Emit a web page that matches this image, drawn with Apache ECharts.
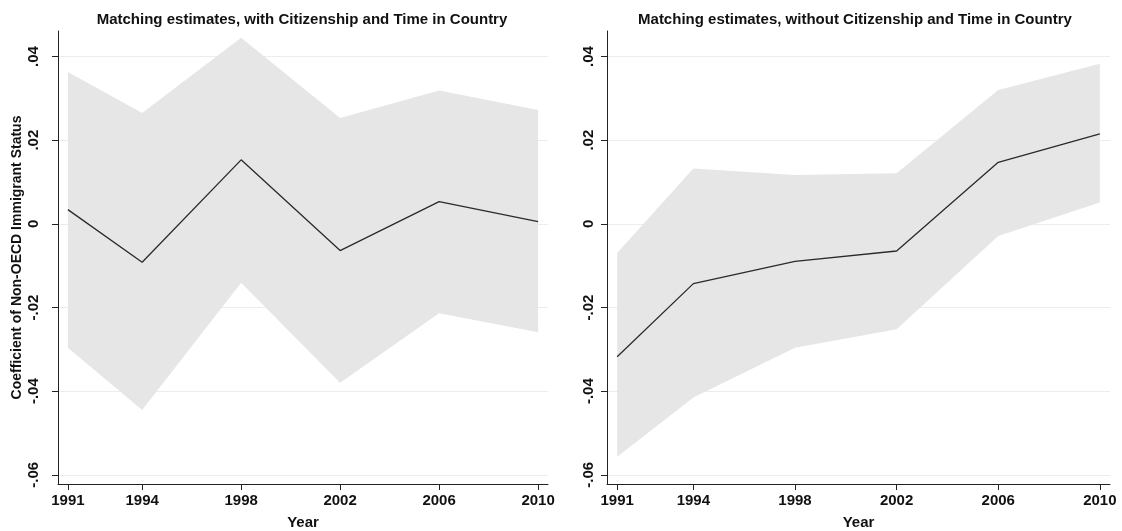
<!DOCTYPE html>
<html>
<head>
<meta charset="utf-8">
<script src="https://cdn.jsdelivr.net/npm/echarts@6/dist/echarts.min.js"></script>
<style>
html,body{margin:0;padding:0;background:#fff;}
#chart{width:1122px;height:531px;}
</style>
</head>
<body>
<div id="chart"></div>
<script>
// ---- data ----
const years = [1991, 1994, 1998, 2002, 2006, 2010];
const titles = [
  'Matching estimates, with Citizenship and Time in Country',
  'Matching estimates, without Citizenship and Time in Country'
];
const yAxisTitle = 'Coefficient of Non-OECD Immigrant Status';
const xAxisTitle = 'Year';
const yTicks = [-0.06, -0.04, -0.02, 0, 0.02, 0.04];
const xTicks = [1991, 1994, 1998, 2002, 2006, 2010];

// Panel 1: with citizenship and time in country
const withEst   = [0.0034, -0.0092, 0.0153, -0.0064, 0.0053, 0.0005];
const withUpper = [0.0363, 0.0265, 0.0445, 0.0253, 0.0319, 0.0272];
const withLower = [-0.0296, -0.0445, -0.0141, -0.0380, -0.0214, -0.0259];

// Panel 2: without citizenship and time in country
const withoutEst   = [-0.0318, -0.0143, -0.0090, -0.0065, 0.0147, 0.0215];
const withoutUpper = [-0.0070, 0.0132, 0.0117, 0.0121, 0.0320, 0.0383];
const withoutLower = [-0.0557, -0.0415, -0.0296, -0.0252, -0.0029, 0.0051];

const FONT = '"Liberation Sans", Arial, sans-serif';
const DARK = '#222';
const BAND = '#e6e6e6';
const TXT = '#111';

function fmtY(v) {
  if (Math.abs(v) < 1e-9) return '0';
  const s = Math.abs(v).toFixed(2).replace(/^0/, '');
  return (v < 0 ? '-' : '') + s;
}

const grids = [
  {left: 58, right: 574, top: 31, bottom: 47, containLabel: false, outerBoundsMode: 'none'},
  {left: 607, right: 12, top: 31, bottom: 47, containLabel: false, outerBoundsMode: 'none'}
];
const labelMargins = [17, 11];

const panels = [
  {est: withEst, up: withUpper, lo: withLower},
  {est: withoutEst, up: withoutUpper, lo: withoutLower}
];

const xAxes = grids.map((g, i) => ({
  type: 'value', gridIndex: i, min: 1990.6, max: 2010.4,
  name: xAxisTitle, nameLocation: 'middle', nameGap: 31,
  nameTextStyle: {fontFamily: FONT, fontWeight: 'bold', fontSize: 15, color: TXT},
  axisLine: {show: true, onZero: false, lineStyle: {color: DARK, width: 1}},
  axisTick: {show: true, length: 6, lineStyle: {color: DARK}, customValues: xTicks},
  axisLabel: {customValues: xTicks, margin: 9, fontFamily: FONT, fontWeight: 'bold', fontSize: 15, color: TXT,
              formatter: v => String(v)},
  splitLine: {show: false}
}));

const yAxes = grids.map((g, i) => ({
  type: 'value', gridIndex: i, min: -0.0622, max: 0.0461,
  name: i === 0 ? yAxisTitle : '', nameLocation: 'middle', nameGap: 34, nameRotate: 90,
  nameTextStyle: {fontFamily: FONT, fontWeight: 'bold', fontSize: 14, color: TXT},
  axisLine: {show: true, onZero: false, lineStyle: {color: DARK, width: 1}},
  axisTick: {show: true, length: 6, lineStyle: {color: DARK}, customValues: yTicks},
  axisLabel: {customValues: yTicks, rotate: 90, margin: labelMargins[i], fontFamily: FONT, fontWeight: 'bold',
              fontSize: 15, color: TXT, formatter: fmtY},
  splitLine: {show: true, lineStyle: {color: '#ececec', width: 1}}
}));

const series = [];
panels.forEach((p, i) => {
  series.push({
    type: 'custom', xAxisIndex: i, yAxisIndex: i, silent: true, z: 1,
    data: years.map((y, k) => [y, p.lo[k], p.up[k]]),
    encode: {x: 0, y: [1, 2]},
    renderItem: function (params, api) {
      if (params.dataIndex !== 0) return null;
      const pts = [];
      for (let k = 0; k < years.length; k++) pts.push(api.coord([years[k], p.up[k]]));
      for (let k = years.length - 1; k >= 0; k--) pts.push(api.coord([years[k], p.lo[k]]));
      return {
        type: 'polygon',
        shape: {points: pts},
        style: {fill: BAND, stroke: null}
      };
    }
  });
  series.push({
    type: 'line', xAxisIndex: i, yAxisIndex: i,
    data: years.map((y, k) => [y, p.est[k]]),
    symbol: 'none', lineStyle: {color: '#2a2a2a', width: 1.3}, z: 3
  });
});

const chart = echarts.init(document.getElementById('chart'), null, {renderer: 'canvas'});
chart.setOption({
  animation: false,
  backgroundColor: '#fff',
  title: [
    {text: titles[0], left: 297, top: 7, textAlign: 'center',
     textStyle: {fontFamily: FONT, fontWeight: 'bold', fontSize: 15, color: TXT}},
    {text: titles[1], left: 850, top: 7, textAlign: 'center',
     textStyle: {fontFamily: FONT, fontWeight: 'bold', fontSize: 15, color: TXT}}
  ],
  grid: grids,
  xAxis: xAxes,
  yAxis: yAxes,
  series: series
});
</script>
</body>
</html>
